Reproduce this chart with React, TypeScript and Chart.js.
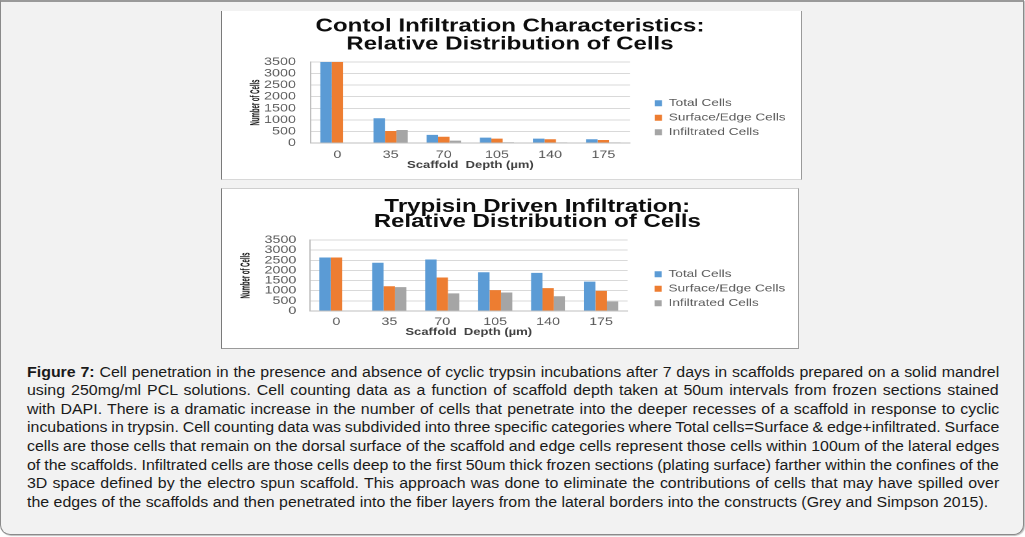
import React, { useEffect, useLayoutEffect, useRef } from 'react';
import { Chart, registerables } from 'chart.js';

Chart.register(...registerables);

// ---------- data ----------
const depthLabels = ['0', '35', '70', '105', '140', '175'];
const seriesNames = ['Total Cells', 'Surface/Edge Cells', 'Infiltrated Cells'];
const seriesColors = ['#5B9BD5', '#ED7D31', '#A5A5A5'];
const yMax = 3500;
const yStep = 500;

const controlTotal = [3500, 1070, 350, 230, 190, 160];
const controlSurface = [3500, 520, 270, 190, 160, 130];
const controlInfiltrated = [0, 560, 100, 30, 25, 25];

const trypsinTotal = [2640, 2380, 2540, 1910, 1880, 1450];
const trypsinSurface = [2640, 1220, 1650, 1030, 1130, 990];
const trypsinInfiltrated = [0, 1180, 870, 910, 730, 470];

const controlTitle = ['Contol Infiltration Characteristics:', 'Relative Distribution of Cells'];
const trypsinTitle = ['Trypisin Driven Infiltration:', 'Relative Distribution of Cells'];
const yAxisTitle = 'Number of Cells';
const xAxisTitle = 'Scaffold  Depth (\u00b5m)';

const captionLines = [
  'Cell penetration in the presence and absence of cyclic trypsin incubations after 7 days in scaffolds prepared on a solid mandrel',
  'using 250mg/ml PCL solutions. Cell counting data as a function of scaffold depth taken at 50um intervals from frozen sections stained',
  'with DAPI. There is a dramatic increase in the number of cells that penetrate into the deeper recesses of a scaffold in response to cyclic',
  'incubations in trypsin. Cell counting data was subdivided into three specific categories where Total cells=Surface & edge+infiltrated. Surface',
  'cells are those cells that remain on the dorsal surface of the scaffold and edge cells represent those cells within 100um of the lateral edges',
  'of the scaffolds. Infiltrated cells are those cells deep to the first 50um thick frozen sections (plating surface) farther within the confines of the',
  '3D space defined by the electro spun scaffold. This approach was done to eliminate the contributions of cells that may have spilled over',
  'the edges of the scaffolds and then penetrated into the fiber layers from the lateral borders into the constructs (Grey and Simpson 2015).',
];
const captionLabel = 'Figure 7:';

// ---------- styling ----------
const STRETCH = 1.3;
const FONT = "'Liberation Sans', Arial, sans-serif";
const CAPTION_STRETCH = 1.1376;
const CAPTION_W = 972 / CAPTION_STRETCH;
const LEGEND_W = 112;
const TITLE_SIZE = 18.5;
const Y_TITLE_RESERVED = { family: FONT, weight: 'bold', size: 7.3, lineHeight: 1.2 };

// moves legend / title blocks and draws a condensed y-axis title
const layoutTweaks = {
  id: 'layoutTweaks',
  afterLayout(chart: any, _args: any, opts: any) {
    const lg = chart.legend;
    if (lg && opts && opts.legendX != null) {
      const w = lg.width;
      const h = lg.height;
      lg.left = opts.legendX;
      lg.right = opts.legendX + w;
      lg.top = opts.legendY;
      lg.bottom = opts.legendY + h;
    }
    const tb = chart.titleBlock;
    if (tb && opts && opts.titleDx) {
      tb.left += opts.titleDx;
      tb.right += opts.titleDx;
    }
  },
  afterDraw(chart: any, _args: any, opts: any) {
    const ys = chart.scales.y;
    if (!ys || !opts) return;
    const ctx = chart.ctx;
    const area = chart.chartArea;
    const x = ys.left + opts.yTitlePadTop + (Y_TITLE_RESERVED.size * Y_TITLE_RESERVED.lineHeight) / 2;
    const y = (area.top + area.bottom) / 2 + (opts.yTitleDy || 0);
    ctx.save();
    ctx.translate(x, y);
    ctx.rotate(-Math.PI / 2);
    ctx.scale(0.6, 1);
    ctx.font = `bold 10px ${FONT}`;
    ctx.fillStyle = '#1a1a1a';
    ctx.textAlign = 'center';
    ctx.textBaseline = 'middle';
    ctx.fillText(yAxisTitle, 0, 0);
    ctx.restore();
  },
};

type Box = { x: number; y: number; w: number; h: number };
type Lay = {
  padL: number; padR: number; padB: number;
  yTitlePad: { top: number; bottom: number }; yTickLen: number;
  xTickLen: number; xTitlePadTop: number;
  titleLH: number; titlePad: { top: number; bottom: number }; titleDx: number;
  legendX: number; legendY: number;
};

function BarChart({ box, lay, title, values, borders }: { box: Box; lay: Lay; title: string[]; values: number[][]; borders: any }) {
  const ref = useRef<HTMLCanvasElement>(null);
  const cw = Math.round(box.w / STRETCH);
  useEffect(() => {
    const chart = new Chart(ref.current as HTMLCanvasElement, {
      type: 'bar',
      data: {
        labels: depthLabels,
        datasets: values.map((v, i) => ({
          label: seriesNames[i],
          data: v,
          backgroundColor: seriesColors[i],
          borderWidth: 0,
          categoryPercentage: 0.645,
          barPercentage: 1,
        })),
      },
      options: {
        responsive: false,
        animation: false,
        devicePixelRatio: 2,
        layout: { padding: { left: lay.padL, right: lay.padR, top: 0, bottom: lay.padB } },
        plugins: {
          title: {
            display: true,
            text: title,
            color: '#0d0d0d',
            font: { family: FONT, weight: 'bold', size: TITLE_SIZE, lineHeight: lay.titleLH / TITLE_SIZE },
            padding: lay.titlePad,
          },
          legend: {
            position: 'right',
            align: 'start',
            maxWidth: LEGEND_W,
            labels: {
              boxWidth: 5.5,
              boxHeight: 6,
              padding: 4,
              color: '#595959',
              font: { family: FONT, size: 10.5, lineHeight: 1 },
            },
          },
          tooltip: { enabled: false },
          layoutTweaks: {
            legendX: lay.legendX,
            legendY: lay.legendY,
            titleDx: lay.titleDx,
            yTitlePadTop: lay.yTitlePad.top,
          },
        } as any,
        scales: {
          x: {
            offset: true,
            grid: { display: false, drawTicks: true, tickLength: lay.xTickLen },
            border: { display: true, color: '#bfbfbf' },
            ticks: { padding: 0, color: '#595959', autoSkip: false, maxRotation: 0, font: { family: FONT, size: 11, lineHeight: 1 } },
            title: {
              display: true,
              text: xAxisTitle,
              color: '#404040',
              font: { family: FONT, weight: 'bold', size: 10, lineHeight: 1 },
              padding: { top: lay.xTitlePadTop, bottom: 0 },
            },
          },
          y: {
            min: 0,
            max: yMax,
            grid: { color: '#d9d9d9', drawTicks: true, tickLength: lay.yTickLen, tickColor: 'rgba(0,0,0,0)' },
            border: { display: true, color: '#bfbfbf' },
            ticks: {
              stepSize: yStep,
              autoSkip: false,
              padding: 1.5,
              color: '#595959',
              font: { family: FONT, size: 11, lineHeight: 1 },
              callback: (v: any) => String(v),
            },
            title: {
              // space is reserved here; the condensed text is drawn by layoutTweaks
              display: true,
              text: yAxisTitle,
              color: 'rgba(0,0,0,0)',
              font: Y_TITLE_RESERVED as any,
              padding: lay.yTitlePad,
            },
          },
        },
      },
      plugins: [layoutTweaks as any],
    });
    return () => chart.destroy();
  }, []);
  return (
    <div style={{ position: 'absolute', left: box.x, top: box.y, width: box.w, height: box.h, background: '#ffffff', overflow: 'hidden' }}>
      <canvas
        ref={ref}
        width={cw}
        height={box.h}
        style={{ position: 'absolute', left: 0, top: 0, width: cw, height: box.h, transform: `scaleX(${box.w / cw})`, transformOrigin: '0 0' }}
      />
      <div style={{ position: 'absolute', left: 0, top: 0, right: 0, bottom: 0, boxSizing: 'border-box', pointerEvents: 'none', ...borders }} />
    </div>
  );
}

function Caption() {
  const refs = useRef<(HTMLSpanElement | null)[]>([]);
  useLayoutEffect(() => {
    refs.current.forEach((el, i) => {
      if (!el || i === captionLines.length - 1) return;
      el.style.wordSpacing = '0px';
      const w = el.offsetWidth;
      const spaces = (el.textContent || '').split(' ').length - 1;
      if (spaces > 0) el.style.wordSpacing = `${(CAPTION_W - w) / spaces}px`;
    });
  }, []);
  return (
    <div
      style={{
        position: 'absolute', left: 27, top: 362.7, width: CAPTION_W, fontFamily: FONT, fontSize: 14, color: '#1a1a1a',
        transform: `scaleX(${CAPTION_STRETCH})`, transformOrigin: '0 0',
      }}
    >
      {captionLines.map((line, i) => (
        <div key={i} style={{ height: 18.6, lineHeight: '18.6px', whiteSpace: 'nowrap' }}>
          <span ref={(el) => { refs.current[i] = el; }} style={{ display: 'inline-block', whiteSpace: 'pre' }}>
            {i === 0 ? <b>{captionLabel}</b> : null}
            {i === 0 ? ' ' + line : line}
          </span>
        </div>
      ))}
    </div>
  );
}

export default function App() {
  const topLay: Lay = {
    padL: 18, padR: 447 - 314.6 - LEGEND_W, padB: 10,
    yTitlePad: { top: 4.6, bottom: 0.3 }, yTickLen: 10,
    xTickLen: 6.5, xTitlePadTop: -0.5,
    titleLH: 18, titlePad: { top: 6.5, bottom: 8.5 }, titleDx: 0,
    legendX: 329.8, legendY: 83,
  };
  const botLay: Lay = {
    padL: 10, padR: 445 - 313 - LEGEND_W, padB: 12,
    yTitlePad: { top: 4.8, bottom: 8.4 }, yTickLen: 9,
    xTickLen: 5.5, xTitlePadTop: -0.5,
    titleLH: 15, titlePad: { top: 11.25, bottom: 10.75 }, titleDx: 26,
    legendX: 329.8, legendY: 77,
  };
  return (
    <div style={{ position: 'fixed', left: 0, top: 0, width: 1025, height: 537, overflow: 'hidden', background: '#ffffff' }}>
      <div
        style={{
          position: 'absolute', left: 0, top: 0, width: 1024, height: 535, boxSizing: 'border-box',
          background: '#f2f2f2', border: '1px solid #8a8a8a', borderTop: '2px solid #9a9a9a',
          borderRadius: '0 0 10px 10px', boxShadow: '1px 1px 1px rgba(0,0,0,0.25)',
        }}
      />
      <BarChart
        box={{ x: 221, y: 11, w: 581, h: 169 }}
        lay={topLay}
        title={controlTitle}
        values={[controlTotal, controlSurface, controlInfiltrated]}
        borders={{ borderLeft: '1px solid #7a7a7a', borderRight: '1px solid #9a9a9a', borderBottom: '1px solid #d8d8d8' }}
      />
      <BarChart
        box={{ x: 221, y: 188, w: 578, h: 161 }}
        lay={botLay}
        title={trypsinTitle}
        values={[trypsinTotal, trypsinSurface, trypsinInfiltrated]}
        borders={{ borderTop: '1px solid #cfcfcf', borderLeft: '1px solid #7a7a7a', borderRight: '1px solid #a0a0a0', borderBottom: '1px solid #9a9a9a' }}
      />
      <Caption />
    </div>
  );
}
